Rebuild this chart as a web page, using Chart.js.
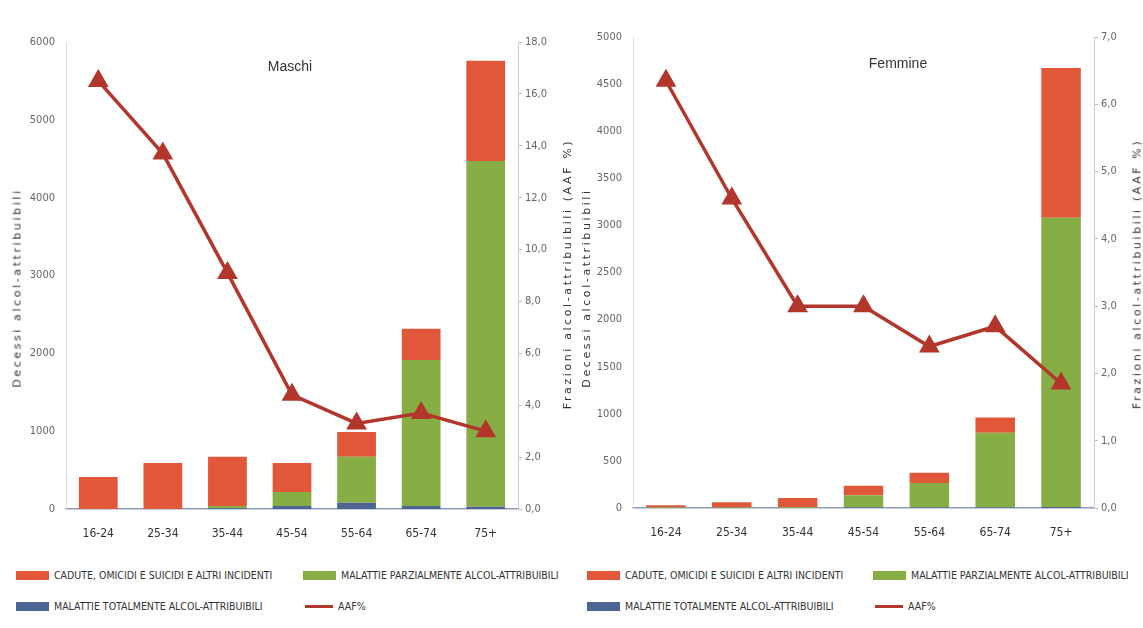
<!DOCTYPE html>
<html><head><meta charset="utf-8">
<script src="https://cdn.jsdelivr.net/npm/chart.js@4"></script>
<style>
body{margin:0;background:#fff;width:1143px;height:628px;overflow:hidden;position:relative;font-family:'Liberation Sans Narrow','DejaVu Sans Condensed','Liberation Sans',sans-serif;}
.panel{position:absolute;top:0;}
.ttl{position:absolute;font-family:'Liberation Sans','Noto Sans',sans-serif;font-size:14px;color:#333;transform:translate(-50%,-50%);white-space:nowrap;}
.ax{position:absolute;font-family:'DejaVu Sans','Noto Sans',sans-serif;font-size:11px;color:#333;letter-spacing:2.6px;white-space:nowrap;transform:translate(-50%,-50%) rotate(-90deg);}
.lg{position:absolute;display:flex;align-items:center;font-size:10.5px;color:#333;text-transform:uppercase;white-space:nowrap;letter-spacing:0px;}
.sw{display:inline-block;width:33px;height:9px;margin-right:5px;}
.ln{display:inline-block;width:28px;height:3px;margin-right:5px;}
</style></head><body>

<div class="panel" style="left:0;width:575px;height:560px"><canvas id="c1" width="575" height="560" style="width:575px;height:560px"></canvas></div>
<div class="panel" style="left:575px;width:568px;height:560px"><canvas id="c2" width="568" height="560" style="width:568px;height:560px"></canvas></div>

<div class="ttl" style="left:290px;top:66px">Maschi</div>
<div class="ttl" style="left:898px;top:63px">Femmine</div>

<div class="ax" style="left:17px;top:288px">Decessi alcol-attribuibili</div>
<div class="ax" style="left:567px;top:274px">Frazioni alcol-attribuibili (AAF %)</div>
<div class="ax" style="left:586px;top:288px">Decessi alcol-attribuibili</div>
<div class="ax" style="left:1137px;top:274px">Frazioni alcol-attribuibili (AAF %)</div>

<div id="legends"></div>

<script>
const categories = ['16-24','25-34','35-44','45-54','55-64','65-74','75+'];
const seriesNames = ['CADUTE, OMICIDI E SUICIDI E ALTRI INCIDENTI','MALATTIE PARZIALMENTE ALCOL-ATTRIBUIBILI','MALATTIE TOTALMENTE ALCOL-ATTRIBUIBILI','AAF%'];

const maschiTotalmente   = [0, 0, 10, 40, 80, 40, 30];
const maschiParzialmente = [0, 0, 30, 180, 590, 1875, 4440];
const maschiCadute       = [410, 590, 630, 370, 320, 400, 1290];
const maschiAAF          = [16.5, 13.7, 9.1, 4.4, 3.3, 3.7, 3.0];

const femmineTotalmente   = [0, 0, 0, 5, 5, 5, 10];
const femmineParzialmente = [5, 5, 10, 130, 260, 795, 3070];
const femmineCadute       = [25, 55, 95, 100, 110, 160, 1590];
const femmineAAF          = [6.35, 4.6, 3.0, 3.0, 2.4, 2.7, 1.85];

const maschiLeftTicks = {min:0, max:6000, step:1000};
const maschiRightTicks = {min:0, max:18, step:2};
const femmineLeftTicks = {min:0, max:5000, step:500};
const femmineRightTicks = {min:0, max:7, step:1};

const RED='#e1573a', GREEN='#87ae45', BLUE='#4e6594', LINE='#b3362c';
const FAM="'Liberation Sans Narrow','DejaVu Sans Condensed','Liberation Sans',sans-serif";

function build(id, tot, parz, cad, aaf, lt, rt, geo){
  return new Chart(document.getElementById(id), {
    type:'bar',
    data:{
      labels:categories,
      datasets:[
        {type:'line', label:seriesNames[3], data:aaf, yAxisID:'y1', order:0,
         borderColor:LINE, backgroundColor:LINE, borderWidth:3.5,
         pointStyle:'triangle', pointRadius:8.5, pointBackgroundColor:LINE, pointBorderColor:LINE, tension:0},
        {label:seriesNames[2], data:tot, backgroundColor:BLUE, yAxisID:'y', order:1},
        {label:seriesNames[1], data:parz, backgroundColor:GREEN, yAxisID:'y', order:1},
        {label:seriesNames[0], data:cad, backgroundColor:RED, yAxisID:'y', order:1}
      ]
    },
    options:{
      responsive:false, animation:false,
      layout:{padding:{top:geo.top, left:0, right:0, bottom:0}},
      datasets:{bar:{barPercentage:0.6, categoryPercentage:1, borderWidth:0}},
      plugins:{legend:{display:false}, tooltip:{enabled:false}},
      scales:{
        x:{stacked:true, offset:true,
           grid:{display:false, drawTicks:false}, border:{color:'#8d9bb6', width:1.5},
           ticks:{color:'#333', font:{size:12, family:FAM}, padding:18, maxRotation:0},
           afterFit(s){s.height=geo.xh;}},
        y:{stacked:true, position:'left', min:lt.min, max:lt.max,
           grid:{display:false, drawTicks:false}, border:{color:'#dcdcdc'},
           ticks:{stepSize:lt.step, color:'#666', font:{size:11, family:FAM}, padding:11,
                  callback:v=>String(v)},
           afterFit(s){s.width=geo.lw;}},
        y1:{position:'right', min:rt.min, max:rt.max,
           grid:{display:true, drawOnChartArea:false, color:'#bbb', tickLength:4},
           border:{color:'#cfcfcf'},
           ticks:{stepSize:rt.step, color:'#666', font:{size:11, family:FAM}, padding:3,
                  callback:v=>Number(v).toFixed(1).replace('.',',')},
           afterFit(s){s.width=geo.rw;}}
      }
    }
  });
}

build('c1', maschiTotalmente, maschiParzialmente, maschiCadute, maschiAAF, maschiLeftTicks, maschiRightTicks,
      {top:42, xh:51, lw:66, rw:57});
build('c2', femmineTotalmente, femmineParzialmente, femmineCadute, femmineAAF, femmineLeftTicks, femmineRightTicks,
      {top:37, xh:52, lw:58, rw:49});

// HTML legends (2x2 grid under each panel)
const lgHost = document.getElementById('legends');
function legend(x0, x1){
  const items = [
    {name:seriesNames[0], color:RED, x:x0, y:576, line:false},
    {name:seriesNames[1], color:GREEN, x:x1, y:576, line:false},
    {name:seriesNames[2], color:BLUE, x:x0, y:607, line:false},
    {name:seriesNames[3], color:LINE, x:x1, y:607, line:true}
  ];
  items.forEach(it=>{
    const d=document.createElement('div'); d.className='lg';
    d.style.left=it.x+'px'; d.style.top=(it.y-7)+'px';
    const s=document.createElement('span'); s.className=it.line?'ln':'sw';
    s.style.background=it.color;
    if(it.line){s.style.marginLeft='2px';}
    d.appendChild(s);
    const t=document.createElement('span'); t.textContent=it.name; d.appendChild(t);
    lgHost.appendChild(d);
  });
}
legend(16, 303);
legend(587, 873);
</script>
</body></html>
